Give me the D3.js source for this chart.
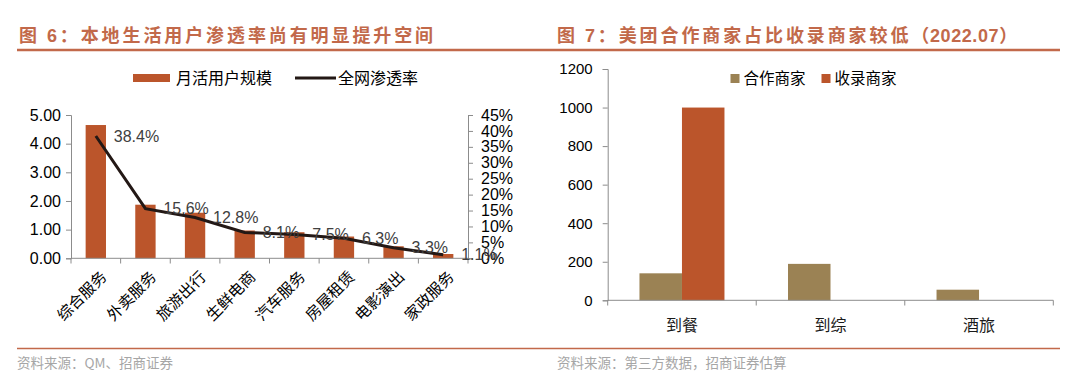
<!DOCTYPE html>
<html>
<head>
<meta charset="utf-8">
<script src="https://cdn.jsdelivr.net/npm/d3@7"></script>
<style>
  body { margin: 0; background: #fff; }
  svg { display: block; }
  text { font-family: "Liberation Sans", Arial, "Noto Sans CJK SC", sans-serif; }
</style>
</head>
<body>
<svg id="chart" width="1080" height="386"></svg>
<script>
// ---- data ----
const leftCategories = ['综合服务', '外卖服务', '旅游出行', '生鲜电商', '汽车服务', '房屋租赁', '电影演出', '家政服务'];
const mauValues = [4.65, 1.87, 1.59, 0.97, 0.91, 0.76, 0.42, 0.15];
const penetrationRates = [38.4, 15.6, 12.8, 8.1, 7.5, 6.3, 3.3, 1.1];
const leftTickValues = [0, 1, 2, 3, 4, 5];
const rightPctTicks = [0, 5, 10, 15, 20, 25, 30, 35, 40, 45];

const rightCategories = ['到餐', '到综', '酒旅'];
const cooperateMerchants = [140, 189, 55];
const listedMerchants = [1000, 0, 0];
const merchantTicks = [0, 200, 400, 600, 800, 1000, 1200];

const orange = '#bb552b';
const khaki = '#9b8254';
const titleColor = '#c2694a';
const axisColor = '#8c8c8c';
const cjk = '"Noto Sans CJK SC", "Liberation Sans", sans-serif';

const svg = d3.select('#chart');

// ---- headers / footers ----
function header(x, y, label, num, rest, tail, x1, x2) {
  const t = svg.append('text')
    .attr('x', x).attr('y', y)
    .attr('fill', titleColor)
    .style('font-size', '18px')
    .style('font-weight', 'bold')
    .style('letter-spacing', '2.9px');
  t.append('tspan').style('font-family', cjk).text(label);
  t.append('tspan').text(num);
  t.append('tspan').style('font-family', cjk).text(rest);
  if (tail) t.append('tspan').style('letter-spacing', '0.6px').text(tail);
  svg.append('line')
    .attr('x1', x1).attr('x2', x2).attr('y1', 50).attr('y2', 50)
    .attr('stroke', titleColor).attr('stroke-width', 2.5);
}
header(19, 42, '图 ', '6', '：本地生活用户渗透率尚有明显提升空间', '', 17, 546);
header(557, 42, '图 ', '7', '：美团合作商家占比收录商家较低', '（2022.07）', 546, 1060);

function footer(x, text, x1, x2) {
  svg.append('line')
    .attr('x1', x1).attr('x2', x2).attr('y1', 348.5).attr('y2', 348.5)
    .attr('stroke', titleColor).attr('stroke-width', 1.5);
  svg.append('text')
    .attr('x', x).attr('y', 368)
    .attr('fill', '#a6a6a6')
    .style('font-family', cjk)
    .style('font-size', '13.5px')
    .text(text);
}
footer(17, '资料来源：QM、招商证券', 17, 546);
footer(557, '资料来源：第三方数据，招商证券估算', 546, 1060);

// ---- left chart: bars + line ----
const lx = d3.scaleBand().domain(leftCategories).range([71, 468]);
const ly = d3.scaleLinear().domain([0, 5]).range([258.3, 115]);
const lyPct = d3.scaleLinear().domain([0, 45]).range([258.3, 115]);

const left = svg.append('g');

left.append('g')
  .attr('transform', 'translate(71,0)')
  .call(d3.axisLeft(ly).tickValues(leftTickValues).tickFormat(d3.format('.2f')).tickSize(5).tickPadding(5))
  .call(g => g.select('.domain').attr('stroke', axisColor))
  .call(g => g.selectAll('.tick line').attr('stroke', axisColor))
  .call(g => g.selectAll('.tick text').attr('fill', '#000').style('font-size', '16px'));

left.append('g')
  .attr('transform', 'translate(468,0)')
  .call(d3.axisRight(lyPct).tickValues(rightPctTicks).tickFormat(d => d + '%').tickSize(5).tickPadding(8))
  .call(g => g.select('.domain').attr('stroke', axisColor))
  .call(g => g.selectAll('.tick line').attr('stroke', axisColor))
  .call(g => g.selectAll('.tick text').attr('fill', '#000').style('font-size', '16px'));

const mauData = leftCategories.map((c, i) => ({ cat: c, mau: mauValues[i], pct: penetrationRates[i] }));
const barW = lx.bandwidth() * 0.41;

left.append('g')
  .selectAll('rect')
  .data(mauData)
  .join('rect')
  .attr('x', d => lx(d.cat) + lx.bandwidth() / 2 - barW / 2)
  .attr('y', d => ly(d.mau))
  .attr('width', barW)
  .attr('height', d => ly(0) - ly(d.mau))
  .attr('fill', orange);

// bottom axis with category boundary ticks
left.append('line')
  .attr('x1', 71).attr('x2', 468).attr('y1', 258.3).attr('y2', 258.3)
  .attr('stroke', axisColor);
left.append('g')
  .selectAll('line')
  .data(leftCategories.concat(['end']))
  .join('line')
  .attr('x1', (d, i) => 71 + i * lx.step())
  .attr('x2', (d, i) => 71 + i * lx.step())
  .attr('y1', 258.3).attr('y2', 263.5)
  .attr('stroke', axisColor);

left.append('g')
  .selectAll('text')
  .data(mauData)
  .join('text')
  .attr('transform', d => `translate(${lx(d.cat) + lx.bandwidth() / 2 + 8},${274}) rotate(-45)`)
  .attr('text-anchor', 'end')
  .attr('dy', '0.35em')
  .attr('fill', '#000')
  .style('font-family', cjk)
  .style('font-size', '15.5px')
  .text(d => d.cat);

const line = d3.line()
  .x(d => lx(d.cat) + lx.bandwidth() / 2)
  .y(d => lyPct(d.pct));

left.append('path')
  .datum(mauData)
  .attr('d', line)
  .attr('fill', 'none')
  .attr('stroke', '#231815')
  .attr('stroke-width', 3);

left.append('g')
  .selectAll('text')
  .data(mauData)
  .join('text')
  .attr('x', d => lx(d.cat) + lx.bandwidth() / 2 + 18)
  .attr('y', d => lyPct(d.pct))
  .attr('dy', '0.35em')
  .attr('fill', '#404040')
  .style('font-size', '16px')
  .text(d => d.pct + '%');

// left legend
const ll = left.append('g');
ll.append('rect').attr('x', 133).attr('y', 74).attr('width', 37).attr('height', 8).attr('fill', orange);
ll.append('text').attr('x', 176).attr('y', 78).attr('dy', '0.35em')
  .style('font-family', cjk).style('font-size', '16px').attr('fill', '#000').text('月活用户规模');
ll.append('line').attr('x1', 295).attr('x2', 336).attr('y1', 78).attr('y2', 78)
  .attr('stroke', '#231815').attr('stroke-width', 3);
ll.append('text').attr('x', 338).attr('y', 78).attr('dy', '0.35em')
  .style('font-family', cjk).style('font-size', '16px').attr('fill', '#000').text('全网渗透率');

// ---- right chart: grouped bars ----
const rx = d3.scaleBand().domain(rightCategories).range([607.7, 1053.3]);
const ry = d3.scaleLinear().domain([0, 1200]).range([300.3, 69]);
const series = ['合作商家', '收录商家'];
const seriesColors = [khaki, orange];
const rInner = d3.scaleBand().domain(series).range([0, 85]);
const groupOffset = (rx.bandwidth() - 85) / 2;

const right = svg.append('g');

right.append('g')
  .attr('transform', 'translate(607.7,0)')
  .call(d3.axisLeft(ry).tickValues(merchantTicks).tickFormat(d => String(d)).tickSize(5).tickPadding(10))
  .call(g => g.select('.domain').attr('stroke', axisColor))
  .call(g => g.selectAll('.tick line').attr('stroke', axisColor))
  .call(g => g.selectAll('.tick text').attr('fill', '#000').style('font-size', '15px'));

const merchantData = rightCategories.map((c, i) => ({ cat: c, values: [cooperateMerchants[i], listedMerchants[i]] }));

right.append('g')
  .selectAll('g')
  .data(merchantData)
  .join('g')
  .attr('transform', d => `translate(${rx(d.cat) + groupOffset},0)`)
  .selectAll('rect')
  .data(d => d.values.map((v, i) => ({ key: series[i], v, i })))
  .join('rect')
  .attr('x', d => rInner(d.key))
  .attr('y', d => ry(d.v))
  .attr('width', rInner.bandwidth())
  .attr('height', d => ry(0) - ry(d.v))
  .attr('fill', d => seriesColors[d.i]);

right.append('line')
  .attr('x1', 607.7).attr('x2', 1053.3).attr('y1', 300.3).attr('y2', 300.3)
  .attr('stroke', axisColor);
right.append('g')
  .selectAll('line')
  .data(rightCategories.concat(['end']))
  .join('line')
  .attr('x1', (d, i) => 607.7 + i * rx.step())
  .attr('x2', (d, i) => 607.7 + i * rx.step())
  .attr('y1', 300.3).attr('y2', 305.5)
  .attr('stroke', axisColor);

right.append('g')
  .selectAll('text')
  .data(rightCategories)
  .join('text')
  .attr('x', d => rx(d) + rx.bandwidth() / 2)
  .attr('y', 325)
  .attr('dy', '0.35em')
  .attr('text-anchor', 'middle')
  .attr('fill', '#1a1a1a')
  .style('font-family', cjk)
  .style('font-size', '16px')
  .text(d => d);

// right legend
const rl = right.append('g');
const legendX = [730.5, 821.5];
series.forEach((s, i) => {
  rl.append('rect').attr('x', legendX[i]).attr('y', 74).attr('width', 9).attr('height', 9).attr('fill', seriesColors[i]);
  rl.append('text').attr('x', legendX[i] + 13).attr('y', 78.5).attr('dy', '0.35em')
    .style('font-family', cjk).style('font-size', '15.5px').attr('fill', '#000').text(s);
});
</script>
</body>
</html>
